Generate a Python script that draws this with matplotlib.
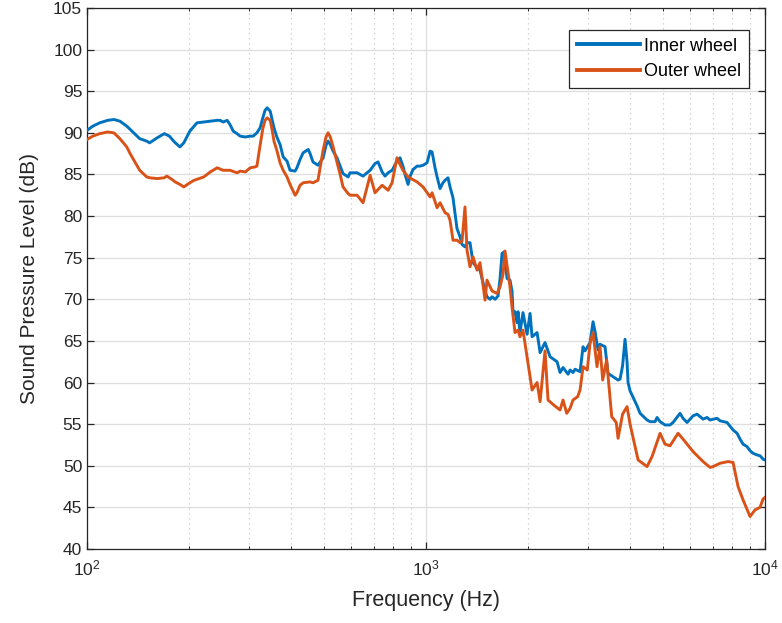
import matplotlib
matplotlib.use("Agg")
import matplotlib.pyplot as plt
from matplotlib.ticker import LogLocator, NullFormatter, MultipleLocator

plt.rcParams['font.family'] = ['Liberation Sans', 'DejaVu Sans']
plt.rcParams['mathtext.fontset'] = 'custom'
plt.rcParams['mathtext.rm'] = 'Liberation Sans'

inner_f = [100, 104, 109, 115, 120, 125, 131, 138, 143, 150, 153, 161, 169, 175, 181, 188, 193, 201, 211,
           221, 231, 242, 247, 252, 259, 264, 270, 277, 283, 293, 303, 309, 317, 324, 330, 335, 340, 347,
           351, 356, 363, 371, 379, 389, 397, 411, 416, 425, 434, 449, 455, 464, 480, 497, 507, 514, 522,
           532, 546, 558, 569, 589, 597, 626, 652, 684, 707, 722, 742, 757, 773, 794, 821, 838, 855, 867,
           885, 898, 916, 941, 960, 980, 1007, 1028, 1042, 1063, 1078, 1100, 1122, 1138, 1161, 1177, 1201,
           1234, 1260, 1277, 1303, 1321, 1348, 1376, 1414, 1443, 1493, 1513, 1545, 1566, 1598, 1631, 1653,
           1676, 1698, 1734, 1769, 1793, 1805, 1830, 1855, 1868, 1893, 1932, 1986, 2027, 2055, 2126, 2170,
           2244, 2322, 2435, 2485, 2536, 2624, 2660, 2714, 2752, 2847, 2905, 2944, 3046, 3109, 3150, 3216,
           3260, 3373, 3443, 3561, 3685, 3735, 3800, 3864, 3917, 3944, 3998, 4193, 4280, 4487, 4580, 4738,
           4803, 4902, 5070, 5246, 5354, 5614, 5730, 5888, 6134, 6302, 6565, 6745, 6884, 7219, 7368, 7726,
           8048, 8270, 8440, 8613, 8851, 9034, 9219, 9471, 9667, 9865, 10000]
inner_db = [90.3, 90.8, 91.2, 91.5, 91.6, 91.4, 90.8, 89.9, 89.3, 89.0, 88.8, 89.4, 89.9, 89.6, 88.9, 88.3,
            88.8, 90.2, 91.2, 91.3, 91.4, 91.5, 91.5, 91.3, 91.5, 91.0, 90.2, 89.9, 89.6, 89.5, 89.6, 89.6,
            90.0, 90.6, 91.8, 92.7, 93.0, 92.6, 91.7, 90.6, 89.5, 88.6, 87.1, 86.6, 85.5, 85.4, 85.8, 86.8,
            87.6, 88.0, 87.5, 86.5, 86.1, 87.0, 88.5, 89.0, 88.6, 87.8, 87.0, 86.0, 85.1, 84.7, 85.2, 85.2,
            84.8, 85.5, 86.3, 86.5, 85.3, 84.8, 85.2, 85.5, 86.6, 87.0, 86.0, 85.0, 83.8, 84.8, 85.6, 86.0,
            86.0, 86.1, 86.4, 87.8, 87.7, 85.8, 84.7, 83.3, 84.0, 84.3, 84.6, 83.5, 82.2, 78.5, 77.5, 76.6,
            76.3, 76.8, 76.8, 74.4, 73.8, 73.5, 71.0, 70.3, 70.0, 70.3, 70.0, 70.4, 72.5, 75.5, 75.7, 72.5,
            72.3, 71.0, 68.6, 68.5, 67.2, 68.5, 66.0, 68.4, 65.8, 68.3, 65.5, 66.0, 63.6, 64.8, 63.1, 62.5,
            61.2, 61.8, 61.0, 61.5, 61.2, 61.6, 61.3, 64.3, 63.8, 64.8, 67.3, 66.2, 63.9, 64.6, 64.3, 61.1,
            60.7, 60.3, 60.4, 62.0, 65.2, 62.5, 60.0, 59.0, 57.2, 56.3, 55.5, 55.3, 55.3, 55.8, 55.3, 54.9,
            54.9, 55.2, 56.3, 55.7, 55.2, 56.0, 56.2, 55.6, 55.8, 55.5, 55.7, 55.4, 55.2, 54.3, 53.9, 53.2,
            52.6, 52.3, 51.8, 51.5, 51.3, 51.2, 50.8, 50.7]

outer_f = [100, 104, 109, 115, 120, 125, 131, 134, 138, 143, 150, 153, 161, 169, 172, 178, 182, 188, 193,
           201, 207, 221, 231, 242, 252, 264, 277, 283, 293, 303, 313, 317, 324, 330, 335, 340, 347, 351,
           356, 363, 371, 379, 389, 397, 411, 416, 425, 434, 455, 464, 480, 497, 507, 514, 522, 532, 546,
           558, 569, 589, 597, 626, 652, 684, 707, 742, 773, 794, 821, 838, 855, 885, 941, 980, 1028, 1042,
           1078, 1100, 1138, 1161, 1177, 1201, 1234, 1260, 1277, 1303, 1321, 1348, 1376, 1414, 1443, 1493,
           1513, 1566, 1620, 1653, 1687, 1710, 1734, 1769, 1793, 1830, 1868, 1893, 1932, 1986, 2055, 2126,
           2170, 2244, 2290, 2380, 2485, 2536, 2600, 2660, 2714, 2800, 2847, 2905, 2990, 3046, 3109, 3194,
           3260, 3320, 3410, 3530, 3640, 3685, 3800, 3917, 3998, 4222, 4487, 4642, 4902, 5070, 5246, 5539,
           5730, 6134, 6565, 6884, 7026, 7368, 7779, 8048, 8326, 8613, 9034, 9344, 9667, 9865, 10000]
outer_db = [89.2, 89.6, 89.9, 90.1, 90.0, 89.3, 88.3, 87.5, 86.6, 85.5, 84.7, 84.6, 84.5, 84.6, 84.8, 84.4,
            84.1, 83.8, 83.5, 84.0, 84.3, 84.7, 85.3, 85.8, 85.5, 85.5, 85.2, 85.4, 85.3, 85.8, 85.9, 86.0,
            88.5, 90.5, 91.5, 91.8, 91.5, 90.5, 89.0, 87.9, 86.4, 85.5, 84.7, 83.8, 82.5, 82.8, 83.7, 84.0,
            84.1, 84.0, 84.3, 87.9, 89.5, 90.0, 89.5, 88.3, 86.5, 85.0, 83.5, 82.7, 82.5, 82.5, 81.6, 84.9,
            82.8, 83.7, 83.1, 84.0, 87.0, 86.2, 85.5, 84.7, 84.1, 83.5, 82.3, 82.8, 81.0, 81.6, 80.4, 80.2,
            79.5, 77.1, 77.1, 76.8, 77.0, 81.1, 75.9, 73.9, 75.1, 73.5, 74.4, 69.9, 72.3, 71.0, 70.7, 71.5,
            73.0, 75.8, 74.0, 71.5, 69.1, 66.0, 66.3, 65.5, 66.3, 63.1, 59.1, 60.0, 57.7, 63.8, 57.9, 57.3,
            56.7, 57.9, 56.3, 56.9, 57.9, 58.3, 59.1, 61.9, 61.5, 64.7, 66.0, 61.9, 64.3, 60.3, 62.7, 55.9,
            55.2, 53.3, 56.2, 57.1, 55.0, 50.7, 49.9, 51.1, 53.9, 52.6, 52.4, 53.9, 53.2, 51.7, 50.5, 49.8,
            49.9, 50.3, 50.5, 50.4, 47.5, 45.9, 43.9, 44.7, 45.0, 46.0, 46.2]

labels = ['Inner wheel', 'Outer wheel']
colors = ['#0072BD', '#D95319']

fig = plt.figure(figsize=(7.82, 6.23), dpi=100)
ax = fig.add_axes([0.1113, 0.1188, 0.867, 0.8684])

ax.plot(inner_f, inner_db, color=colors[0], lw=2.1, label=labels[0], zorder=3)
ax.plot(outer_f, outer_db, color=colors[1], lw=2.1, label=labels[1], zorder=3)

ax.set_xscale('log')
ax.set_xlim(100, 10000)
ax.set_ylim(40, 105)
ax.yaxis.set_major_locator(MultipleLocator(5))
ax.xaxis.set_major_locator(LogLocator(base=10, numticks=10))
ax.xaxis.set_minor_locator(LogLocator(base=10, subs=range(2, 10), numticks=20))
ax.xaxis.set_minor_formatter(NullFormatter())

ax.grid(True, which='major', color='#dedede', lw=0.9, ls='-', zorder=0)
ax.grid(True, which='minor', axis='x', color='#c8c8c8', lw=0.9, ls=(0, (1, 3)), zorder=0)

for s in ax.spines.values():
    s.set_color('#262626')
    s.set_linewidth(0.9)
ax.tick_params(which='both', direction='in', top=True, right=True, colors='#262626',
               labelsize=12.5, labelcolor='#262626')
ax.tick_params(which='major', length=5, width=0.9)
ax.tick_params(which='minor', length=2.5, width=0.7)
ax.tick_params(axis='x', which='major', pad=7)

ax.set_xlabel('Frequency (Hz)', fontsize=15.5, color='#262626', labelpad=8)
ax.set_ylabel('Sound Pressure Level (dB)', fontsize=15, color='#262626', labelpad=10)

leg = ax.legend(loc='upper right', bbox_to_anchor=(0.976, 0.96), fontsize=13, frameon=True,
                fancybox=False, edgecolor='#262626', framealpha=1, handlelength=3.5,
                borderpad=0.45, labelspacing=0.45, handletextpad=0.2, borderaxespad=0)
leg.get_frame().set_linewidth(0.9)
for line in leg.get_lines():
    line.set_linewidth(2.8)

fig.savefig('out.png', dpi=100)
